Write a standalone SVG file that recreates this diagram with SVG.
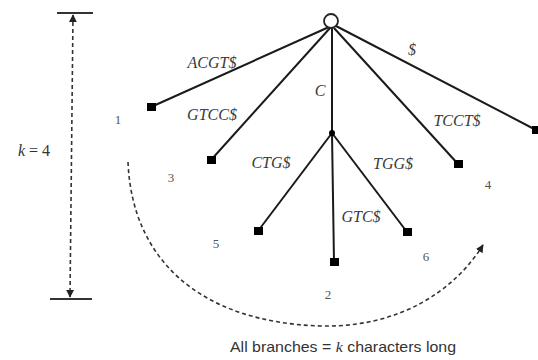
<svg xmlns="http://www.w3.org/2000/svg" width="538" height="360" viewBox="0 0 538 360">
<style>
.edge{stroke:#1a1a1a;stroke-width:2;fill:none}
.leaf{fill:#000}
.serif{font-family:"Liberation Serif","Times New Roman","DejaVu Serif",serif}
.lbl{font-style:italic;font-size:16px;fill:#3a3a3a;text-anchor:middle}
.num{font-size:13px;fill:#555;text-anchor:middle}
.dash{stroke:#333;stroke-width:1.6;fill:none;stroke-dasharray:4 3}
.bar{stroke:#333;stroke-width:2}
.cap{font-family:"Liberation Sans","DejaVu Sans",sans-serif;font-size:14.5px;fill:#333;text-anchor:middle}
</style>
<defs>
<marker id="ah" viewBox="0 0 10 10" refX="9" refY="5" markerWidth="5" markerHeight="5" orient="auto-start-reverse">
<path d="M0,0 L10,5 L0,10 z" fill="#222"/>
</marker>
</defs>
<rect width="538" height="360" fill="#fff"/>
<g id="connectors">
<line class="edge" x1="329" y1="27" x2="151" y2="107"/>
<line class="edge" x1="330" y1="28" x2="211" y2="160"/>
<line class="edge" x1="332" y1="28" x2="332" y2="133"/>
<line class="edge" x1="334" y1="28" x2="458" y2="164"/>
<line class="edge" x1="336" y1="26" x2="536" y2="130"/>
<line class="edge" x1="332" y1="133" x2="258" y2="231"/>
<line class="edge" x1="332" y1="133" x2="334" y2="262"/>
<line class="edge" x1="332" y1="133" x2="407" y2="232"/>
</g>
<g id="root"><circle cx="331" cy="21" r="7" fill="#fff" stroke="#222" stroke-width="1.8"/></g>
<g id="internal"><circle cx="332" cy="133" r="3" fill="#000"/></g>
<g id="leaf1"><rect class="leaf" x="147" y="103" width="9" height="8"/><text class="serif num" x="118" y="124">1</text></g>
<g id="leaf3"><rect class="leaf" x="207" y="156" width="9" height="8"/><text class="serif num" x="171" y="182">3</text></g>
<g id="leafT"><rect class="leaf" x="454" y="160" width="9" height="8"/><text class="serif num" x="488" y="189">4</text></g>
<g id="leafD"><rect class="leaf" x="532" y="126" width="9" height="8"/></g>
<g id="leaf5"><rect class="leaf" x="254" y="227" width="9" height="8"/><text class="serif num" x="216" y="248">5</text></g>
<g id="leaf2"><rect class="leaf" x="330" y="258" width="9" height="8"/><text class="serif num" x="328" y="299">2</text></g>
<g id="leaf6"><rect class="leaf" x="403" y="228" width="9" height="8"/><text class="serif num" x="426" y="261">6</text></g>
<g id="labels">
<text class="serif lbl" x="212" y="68">ACGT$</text>
<text class="serif lbl" x="212" y="120">GTCC$</text>
<text class="serif lbl" x="320" y="96">C</text>
<text class="serif lbl" x="412" y="55">$</text>
<text class="serif lbl" x="457" y="126">TCCT$</text>
<text class="serif lbl" x="393" y="169">TGG$</text>
<text class="serif lbl" x="271" y="168">CTG$</text>
<text class="serif lbl" x="361" y="222">GTC$</text>
</g>
<g id="dimension">
<line class="bar" x1="57" y1="13" x2="93" y2="13"/>
<line class="bar" x1="50" y1="299" x2="92" y2="299"/>
<line class="dash" x1="73" y1="15" x2="70" y2="297" marker-start="url(#ah)" marker-end="url(#ah)"/>
<text class="serif" x="34" y="156" font-size="16" fill="#333" text-anchor="middle"><tspan font-style="italic">k</tspan> = 4</text>
</g>
<g id="arc">
<path class="dash" d="M128,162 C132,260 200,322 320,326 C400,328 455,290 483,245" marker-end="url(#ah)"/>
</g>
<text class="cap" x="343" y="352" textLength="226" lengthAdjust="spacingAndGlyphs">All branches = <tspan class="serif" font-style="italic">k</tspan> characters long</text>
</svg>
